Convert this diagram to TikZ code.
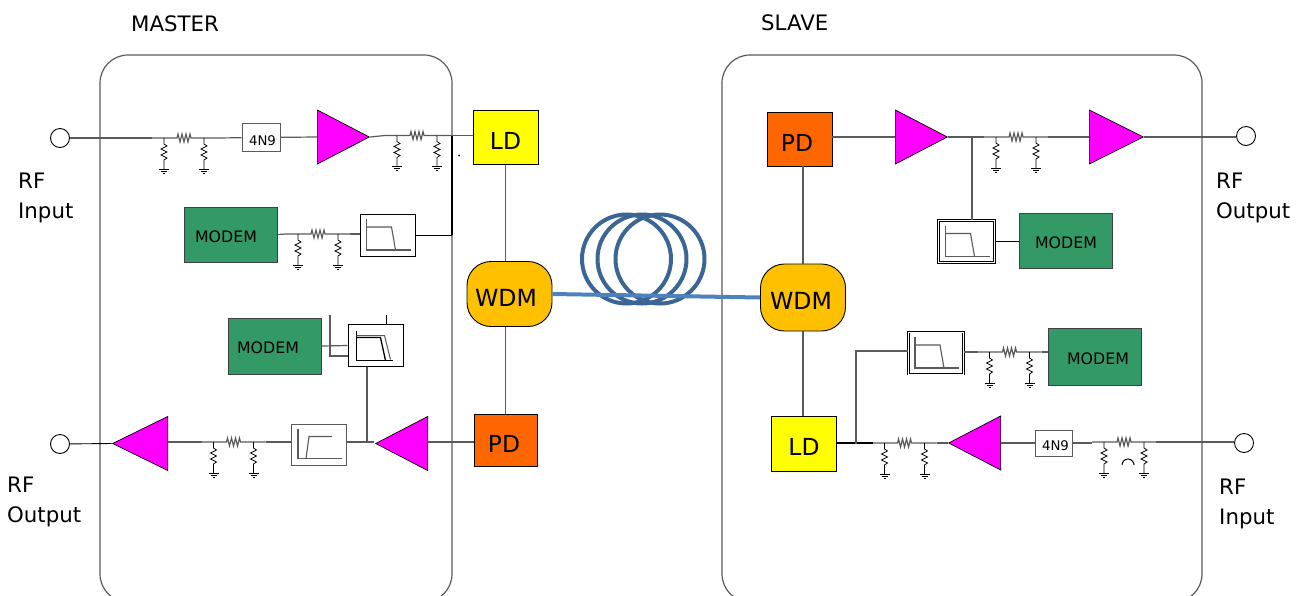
\documentclass[tikz,border=0pt]{standalone}
\usepackage{fontspec}
\setmainfont{DejaVu Sans}
\usepackage{tikz}
\usetikzlibrary{shapes, shapes.geometric, positioning, arrows.meta, calc}

\definecolor{wirecol}{HTML}{5A5A5A}
\definecolor{ampcol}{HTML}{FF00FF}
\definecolor{modemcol}{HTML}{339966}
\definecolor{wdmcol}{HTML}{FFC000}
\definecolor{pdcol}{HTML}{FF6600}
\definecolor{ldcol}{HTML}{FFFF00}
\definecolor{loopcol}{HTML}{3A6595}
\definecolor{fibrecol}{HTML}{4F81BD}

\tikzset{
  wire/.style={draw=wirecol, line width=1.2pt},
  panel/.style={draw=wirecol, line width=1.2pt, rounded corners=28pt, inner sep=0pt},
  port/.style={circle, draw=black, line width=0.9pt, fill=white, minimum size=19pt, inner sep=0pt},
  amp/.style={isosceles triangle, isosceles triangle stretches, draw=black, line width=0.7pt, fill=ampcol,
    inner sep=0pt, minimum width=54pt, minimum height=52pt, anchor=lower side},
  ampleft/.style={amp, shape border rotate=180},
  tnbox/.style={rectangle, draw=wirecol, line width=0.9pt, fill=white, inner sep=0pt,
    minimum width=38pt, minimum height=28pt, text height=15.7pt, text depth=0pt, font=\fontsize{13.3}{15}\selectfont},
  modem/.style={rectangle, draw=black!75, line width=0.9pt, fill=modemcol, inner sep=0pt,
    minimum width=93pt, minimum height=55pt, text height=15.5pt, text depth=0pt, font=\fontsize{15.8}{18}\selectfont},
  filterbox/.style={rectangle, draw=black, line width=0.9pt, fill=white, inner sep=0pt,
    minimum width=55pt, minimum height=42pt},
  filterdbl/.style={filterbox, double, double distance=0.8pt, line width=0.7pt},
  block/.style={rectangle, draw=black, line width=0.7pt, inner sep=0pt,
    minimum width=65pt, minimum height=54pt, text height=24pt, text depth=0pt, font=\fontsize{23.4}{26}\selectfont},
  wdm/.style={rectangle, rounded corners=24pt, draw=black, line width=0.9pt, fill=wdmcol, inner sep=0pt,
    minimum width=85pt, minimum height=65pt, text height=24.2pt, text depth=0pt, font=\fontsize{23.6}{26}\selectfont},
  fibreloop/.style={circle, draw=loopcol, line width=4pt, inner sep=0pt, minimum size=89pt},
  fibre/.style={draw=fibrecol, line width=4pt},
  caption/.style={anchor=west, inner sep=0pt, align=left, font=\fontsize{21.3}{30}\selectfont},
  atten/.pic={
    \coordinate (-in) at (-32,0);
    \coordinate (-out) at (32,0);
    \draw[wire] (-32,0) -- (-7,0) -- (-6,-4) -- (-4,4) -- (-2,-4) -- (0,4) -- (2,-4) -- (4,4) -- (6,-4) -- (7,0) -- (32,0);
    \foreach \sx in {-20,20} {
      \draw[black, line width=0.8pt] (\sx,0) -- (\sx,6) -- ++(3,2) -- ++(-6,3) -- ++(6,3) -- ++(-6,3) -- ++(6,3) -- ++(-3,2) -- (\sx,31);
      \draw[black, line width=0.8pt] (\sx-5,31) -- (\sx+5,31) (\sx-3,33) -- (\sx+3,33) (\sx-1,35) -- (\sx+1,35);
    }
  },
  lowpass/.pic={
    \draw[wirecol, line width=1.1pt] (-21,-16) -- (-21,15) -- (23,15);
    \draw[wirecol, line width=1.1pt] (-21,-8) -- (4,-8) -- (8,15);
  },
  highpass/.pic={
    \draw[wirecol, line width=1.1pt] (-21,-16) -- (-21,14) -- (23,14);
    \draw[wirecol, line width=1.1pt] (-13,14) -- (-10,-8) -- (13,-8);
  },
  lowpassdbl/.pic={
    \draw[black, line width=1.3pt] (-19,-15) -- (-19,15) -- (17,15);
    \draw[black, line width=1.3pt] (-19,-8) -- (5,-8) -- (10,15);
    \draw[wirecol, line width=1pt] (-19,-10) -- (9,-10) -- (15,14);
  }
}

\begin{document}
\begin{tikzpicture}[x=1pt, y=-1pt]
    \useasboundingbox (0,0) rectangle (1306,595);
    \begin{scope}
        \clip (0,0) rectangle (1306,595);
        \node (master) [panel, minimum width=352pt, minimum height=547pt] at (276,328.5) {};
        \node (slave) [panel, minimum width=480pt, minimum height=547pt] at (962,328.5) {};
    \end{scope}

    \node (mastertxt) [caption] at (131,24) {MASTER};
    \node (slavetxt) [caption] at (761,23) {SLAVE};
    \node (rfa) [caption] at (18,198) {RF\\Input};
    \node (rfb) [caption] at (7,502) {RF\\Output};
    \node (rfc) [caption] at (1216,198) {RF\\Output};
    \node (rfd) [caption] at (1219,504) {RF\\Input};

    \node (porta) [port] at (60,138) {};
    \node (portb) [port] at (60,444) {};
    \node (portc) [port] at (1246,136) {};
    \node (portd) [port] at (1244,443) {};

    \node (lda) [block, fill=ldcol] at (505.5,137.5) {LD};
    \node (wdma) [wdm] at (509.5,294) {\hspace*{-7pt}WDM};
    \node (pda) [block, fill=pdcol, line width=1.5pt, minimum width=63pt, minimum height=52pt] at (506,440.5) {\hspace*{-4pt}PD};
    \node (pdb) [block, fill=pdcol] at (799.5,139) {\hspace*{-5pt}PD};
    \node (wdmb) [wdm, minimum height=67pt] at (803,297.5) {\hspace*{-4pt}WDM};
    \node (ldb) [block, fill=ldcol, minimum height=55pt] at (804,443.5) {LD};

    \node (ampa) [amp] at (317,137) {};
    \node (ampb) [ampleft, minimum height=55pt] at (168,443.5) {};
    \node (ampc) [ampleft] at (428,443.5) {};
    \node (ampd) [amp] at (895,137) {};
    \node (ampe) [amp, minimum height=54pt] at (1089,137) {};
    \node (ampf) [ampleft] at (1001,443) {};

    \node (tna) [tnbox] at (261,137.5) {\hspace*{3pt}4N9};
    \node (tnb) [tnbox, minimum width=37pt, minimum height=26pt] at (1053.5,443) {\hspace*{4pt}4N9};

    \node (moda) [modem] at (230.5,234.5) {\hspace*{-9pt}MODEM};
    \node (modb) [modem, minimum height=56pt] at (274.5,346) {\hspace*{-13pt}MODEM};
    \node (modc) [modem] at (1066,240.5) {MODEM};
    \node (modd) [modem, minimum height=57pt] at (1095,356.5) {\hspace*{6pt}MODEM};

    \node (filta) [filterbox] at (387.5,235) {};
    \node (filtb) [filterbox] at (375.5,345.5) {};
    \node (filtc) [filterbox, draw=wirecol, minimum height=41pt] at (319,444.5) {};
    \node (filtd) [filterdbl, minimum width=56pt] at (966.5,241.5) {};
    \node (filte) [filterdbl] at (936,353) {};

    \pic at (filta) {lowpass};
    \pic at (filtb) {lowpassdbl};
    \pic at (filtc) {highpass};
    \pic at (filtd) {lowpass};
    \pic at (filte) {lowpass};

    \pic (atta) at (184,138) {atten};
    \pic (attb) at (417,135.5) {atten};
    \pic (attc) at (318,234) {atten};
    \pic (attd) at (233.5,442) {atten};
    \pic (atte) at (1016,137) {atten};
    \pic (attf) at (1009.5,352) {atten};
    \pic (attg) at (904.5,443) {atten};
    \pic (atth) at (1124,442) {atten};

    \coordinate (busa) at (452,135.5);
    \coordinate (busb) at (452,235);
    \coordinate (stuba) at (330,315);
    \coordinate (stubb) at (330,356);
    \coordinate (stubc) at (386,315);
    \coordinate (stubd) at (386,324);
    \coordinate (taga) at (367,367);
    \coordinate (tagb) at (367,442);
    \coordinate (tagc) at (374,442);
    \coordinate (tagd) at (972,137);
    \coordinate (tage) at (972,220);
    \coordinate (tagf) at (856,444);
    \coordinate (tagg) at (856,351);

    \draw[wire] (porta) -- (atta-in);
    \draw[wire] (atta-out) -- (tna);
    \draw[wire] (tna) -- (ampa.lower side);
    \draw[wire] (ampa.apex) -- (attb-in);
    \draw[wire] (attb-out) -- (attb-out -| lda.west);
    \draw[black, line width=1.3pt] (busa) -- (busb);
    \draw[black, line width=1pt] (busb) -- (filta.east);
    \draw[wire] (moda.east) -- (attc-in);
    \draw[wire] (attc-out) -- (attc-out -| filta.west);
    \node (dotmark) [circle, fill=black, inner sep=0pt, minimum size=2pt] at (459,155.5) {};

    \draw[wire] (modb.east) -- (filtb.west);
    \draw[wire] (stuba) -- (stubb) -- (stubb -| filtb.west);
    \draw[black, line width=0.9pt] (stubc) -- (stubd);
    \draw[wire] (taga) -- (tagb);
    \draw[wire] (filtc.east |- tagc) -- (tagc);
    \draw[wire] (ampc.lower side |- tagc) -- (tagc -| pda.west);
    \draw[wire] (attd-out) -- (attd-out -| filtc.west);
    \draw[wire] (attd-in -| ampb.lower side) -- (attd-in);
    \draw[black, line width=0.9pt] (ampb.apex) -- (portb);

    \draw[wire] (lda.south) -- (lda.south |- wdma.north);
    \draw[wire] (lda.south |- wdma.south) -- (lda.south |- pda.north);
    \draw[wire] (pdb.south -| wdmb.north) -- (wdmb.north);
    \draw[wire] (wdmb.south) -- (ldb.north -| wdmb.south);

    \node (loopa) [fibreloop] at (626.5,259) {};
    \node (loopb) [fibreloop] at (642,259) {};
    \node (loopc) [fibreloop] at (660,259) {};
    \draw[fibre] (wdma.east) -- (wdmb.west);

    \draw[wire] (ampd.lower side -| pdb.east) -- (ampd.lower side);
    \draw[wire] (ampd.apex) -- (atte-in);
    \draw[wire] (atte-out) -- (ampe.lower side);
    \draw[wire] (ampe.apex) -- (ampe.apex -| portc.west);
    \draw[wire] (tagd) -- (tage);
    \draw[black, line width=0.9pt] (filtd.east) -- (filtd.east -| modc.west);
    \draw[wire] (filte.east |- attf-in) -- (attf-in);
    \draw[wire] (attf-out) -- (attf-out -| modd.west);
    \draw[black, line width=1.1pt] (attg-in -| ldb.east) -- (attg-in);
    \draw[wire] (tagf) -- (tagg) -- (tagg -| filte.west);
    \draw[wire] (attg-out) -- (ampf.apex);
    \draw[wire] (ampf.lower side) -- (tnb);
    \draw[wire] (tnb) -- (tnb -| atth-in);
    \draw[wire] (atth-out) -- (atth-out -| portd.west);
    \draw[black, line width=1pt] (1122,465) arc[start angle=180, end angle=360, radius=6];
\end{tikzpicture}
\end{document}
